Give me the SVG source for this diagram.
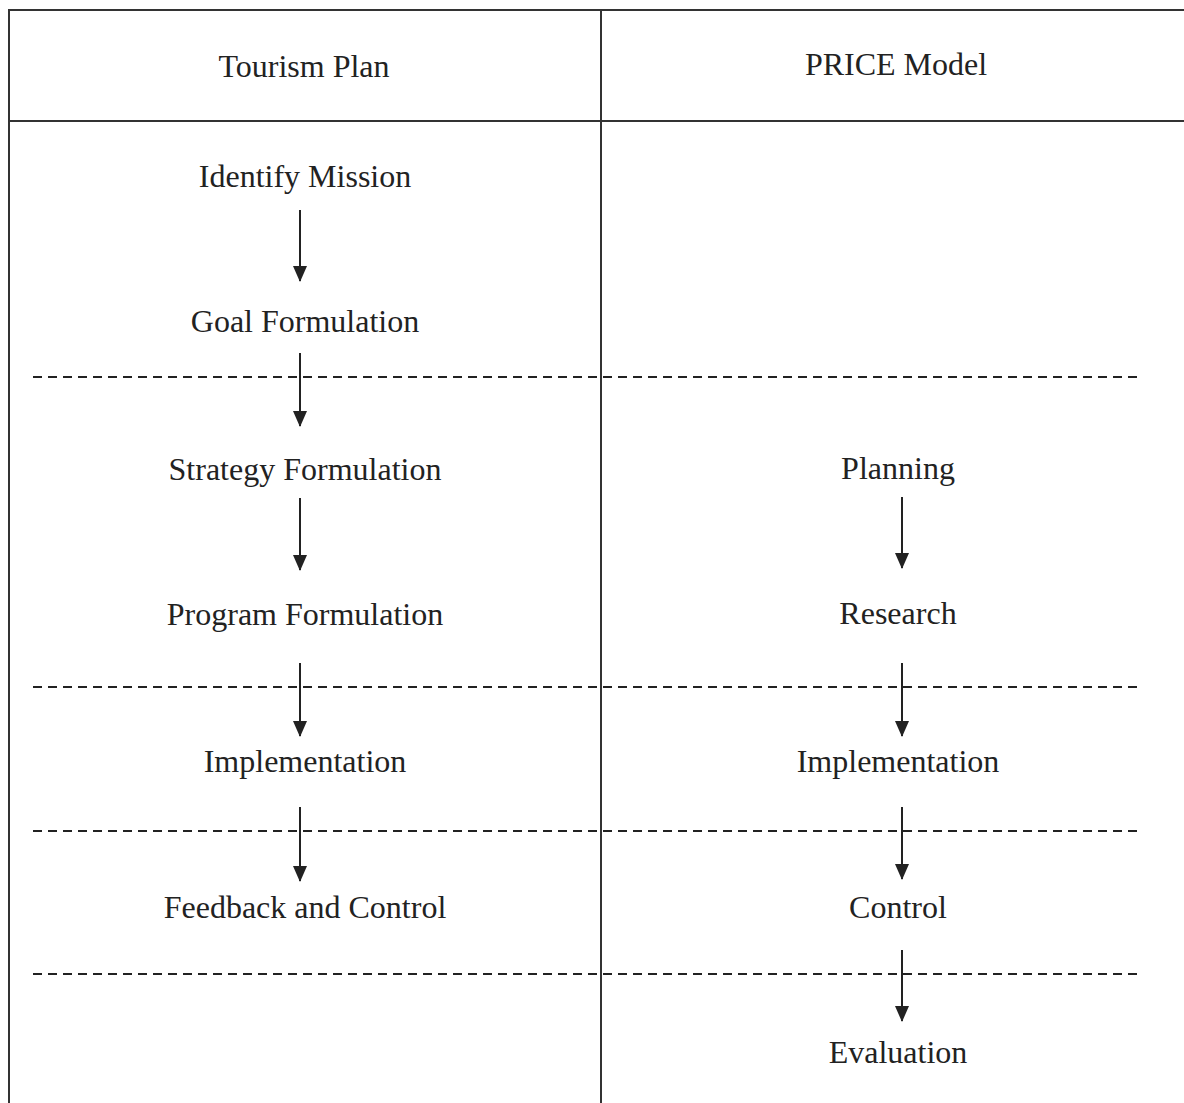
<svg xmlns="http://www.w3.org/2000/svg" width="1184" height="1103" viewBox="0 0 1184 1103">
<style>
.t{font-family:"Liberation Serif","Times New Roman",serif;font-size:32px;fill:#222;text-anchor:middle}
.b{stroke:#333;stroke-width:2;fill:none}
.d{stroke:#222;stroke-width:2;stroke-dasharray:9,6;fill:none}
.a{stroke:#222;stroke-width:2;fill:none;marker-end:url(#ah)}
</style>
<defs>
<marker id="ah" viewBox="0 0 16 14" refX="15" refY="7" markerWidth="16" markerHeight="14" markerUnits="userSpaceOnUse" orient="auto">
<path d="M0,0 L16,7 L0,14 z" fill="#222"/>
</marker>
</defs>
<rect width="1184" height="1103" fill="#fff"/>
<g id="table">
<line class="b" x1="9" y1="10" x2="1184" y2="10"/>
<line class="b" x1="9" y1="121" x2="1184" y2="121"/>
<line class="b" x1="9" y1="9" x2="9" y2="1103"/>
<line class="b" x1="601" y1="9" x2="601" y2="1103"/>
</g>
<g id="dividers">
<line class="d" x1="33" y1="377" x2="1138" y2="377"/>
<line class="d" x1="33" y1="687" x2="1138" y2="687"/>
<line class="d" x1="33" y1="831" x2="1138" y2="831"/>
<line class="d" x1="33" y1="974" x2="1138" y2="974"/>
</g>
<g id="header-tourism"><text class="t" x="304" y="77">Tourism Plan</text></g>
<g id="header-price"><text class="t" x="896" y="75">PRICE Model</text></g>
<g id="n-identify"><text class="t" x="305" y="187">Identify Mission</text></g>
<g id="n-goal"><text class="t" x="305" y="332">Goal Formulation</text></g>
<g id="n-strategy"><text class="t" x="305" y="480">Strategy Formulation</text></g>
<g id="n-program"><text class="t" x="305" y="625">Program Formulation</text></g>
<g id="n-impl1"><text class="t" x="305" y="772">Implementation</text></g>
<g id="n-feedback"><text class="t" x="305" y="918">Feedback and Control</text></g>
<g id="n-planning"><text class="t" x="898" y="479">Planning</text></g>
<g id="n-research"><text class="t" x="898" y="624">Research</text></g>
<g id="n-impl2"><text class="t" x="898" y="772">Implementation</text></g>
<g id="n-control"><text class="t" x="898" y="918">Control</text></g>
<g id="n-evaluation"><text class="t" x="898" y="1063">Evaluation</text></g>
<g id="connectors">
<line class="a" x1="300" y1="210" x2="300" y2="281"/>
<line class="a" x1="300" y1="353" x2="300" y2="426"/>
<line class="a" x1="300" y1="498" x2="300" y2="570"/>
<line class="a" x1="300" y1="663" x2="300" y2="736"/>
<line class="a" x1="300" y1="807" x2="300" y2="881"/>
<line class="a" x1="902" y1="497" x2="902" y2="568"/>
<line class="a" x1="902" y1="663" x2="902" y2="736"/>
<line class="a" x1="902" y1="807" x2="902" y2="879"/>
<line class="a" x1="902" y1="950" x2="902" y2="1021"/>
</g>
</svg>
